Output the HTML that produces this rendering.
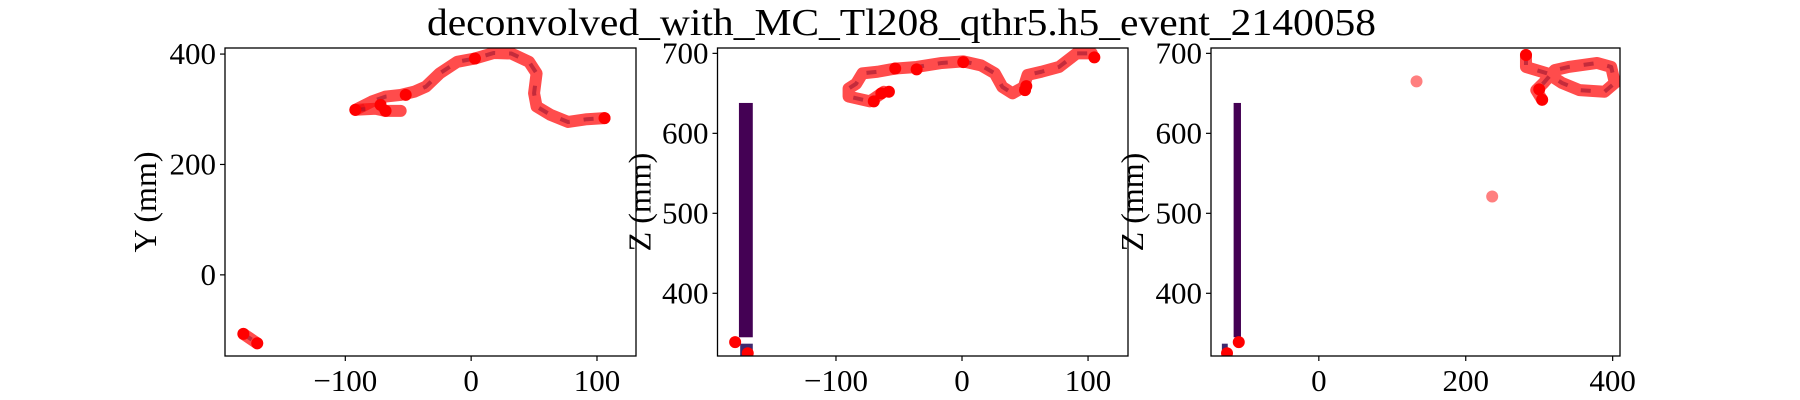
<!DOCTYPE html>
<html><head><meta charset="utf-8"><style>
html,body{margin:0;padding:0;background:#fff;}
svg{display:block;font-family:"Liberation Serif",serif;}
</style></head><body>
<svg id="fig" width="1800" height="400" viewBox="0 0 1800 400" xmlns="http://www.w3.org/2000/svg">
<rect width="1800" height="400" fill="#fff"/>
<text x="427" y="35" font-size="38" textLength="949" lengthAdjust="spacingAndGlyphs">deconvolved_with_MC_Tl208_qthr5.h5_event_2140058</text>
<g id="panels"></g>
</svg>
<script>
// Panel 1: X vs Y track
const trackXY_x = [-92,-79,-68,-56,-45,-36,-25,-11,3,18,32,46,52,50,52,63,77,92,106];
const trackXY_y = [299,314,323,326,332,341,365,386,392,402,401,386,365,329,305,290,277,282,284];
const loopXY_x = [-92,-76,-68,-56];
const loopXY_y = [299,301,297,297];
const dotsXY_x = [-92,-72,-68,-52,3,106,-181,-170];
const dotsXY_y = [299,308,297,326,392,284,-107,-124];
// Panel 2: X vs Z track
const trackXZ_x = [-62,-73,-90,-90,-84,-79,-67,-53,-36,-16,1,15,26,32,40,49,52,63,77,91,103];
const trackXZ_z = [652,640,646,656,662,675,677,681,683,688,690,685,675,658,650,658,673,677,683,700,700];
const dotsXZ_x = [-70,-64,-58,-53,-36,1,50,51,105,-180,-170];
const dotsXZ_z = [640,650,652,681,680,689,654,659,695,339,325];
// Panel 3: Y vs Z track
const trackYZ_y = [282,282,311,331,355,389,403,398,379,340,321,306,296,304];
const trackYZ_z = [698,683,675,663,654,652,663,683,688,683,679,663,654,642];
const dotsYZ_y = [282,300,304,-109,-125];
const dotsYZ_z = [698,655,642,339,325];
const isoYZ_y = [133,236];
const isoYZ_z = [665,521];
// Heatmap-like column cells (x0, x1, z0, z1) in data units
const cellsXZ_x0 = [-177,-176]; const cellsXZ_x1 = [-166,-166];
const cellsXZ_z0 = [345,322]; const cellsXZ_z1 = [638,337];
const cellsYZ_x0 = [-116,-132]; const cellsYZ_x1 = [-106,-124];
const cellsYZ_z0 = [345,322]; const cellsYZ_z1 = [638,337];
// Ticks
const ticksX12 = [-100,0,100];
const ticksY1 = [0,200,400];
const ticksZ = [400,500,600,700];
const ticksX3 = [0,200,400];

const NS="http://www.w3.org/2000/svg";
const root=document.getElementById('panels');
function mk(t,a,p){const e=document.createElementNS(NS,t);for(const k in a)e.setAttribute(k,a[k]);(p||root).appendChild(e);return e;}
function lin(d0,d1,p0,p1){return v=>p0+(v-d0)/(d1-d0)*(p1-p0);}

function panel(name,box,xd,yd,xt,yt,ylabel){
  const g=mk('g',{});
  
  
  const sx=lin(xd[0],xd[1],box.l,box.r), sy=lin(yd[0],yd[1],box.b,box.t);
  const clipId=name+'-clip';
  const cp=mk('clipPath',{id:clipId},g); mk('rect',{x:box.l,y:box.t,width:box.r-box.l,height:box.b-box.t},cp);
  const plot=mk('g',{'clip-path':'url(#'+clipId+')'},g);
  
  
  const fr=mk('rect',{x:box.l,y:box.t,width:box.r-box.l,height:box.b-box.t,fill:'none',stroke:'#000','stroke-width':1.3},g);
  
  
  xt.forEach(v=>{const x=sx(v);
    mk('line',{x1:x,x2:x,y1:box.b,y2:box.b+5,stroke:'#000','stroke-width':1.2},g);
    const t=mk('text',{x:x,y:box.b+35,'font-size':31,'text-anchor':'middle'},g);
    
    
    t.textContent=v<0?'\u2212'+(-v):String(v);});
  yt.forEach(v=>{const y=sy(v);
    mk('line',{x1:box.l-5,x2:box.l,y1:y,y2:y,stroke:'#000','stroke-width':1.2},g);
    const t=mk('text',{x:box.l-9,y:y+10,'font-size':31,'text-anchor':'end'},g);
    
    
    t.textContent=v<0?'\u2212'+(-v):String(v);});
  const lx=box.l-ylabel.off+10;
  const yl=mk('text',{x:lx,y:(box.t+box.b)/2,'font-size':32,'text-anchor':'middle',transform:'rotate(-90 '+lx+' '+(box.t+box.b)/2+')'},g);
  
  
  yl.textContent=ylabel.text;
  return {plot,sx,sy};
}
function track(p,xs,ys,name){
  const pts=xs.map((v,i)=>p.sx(v)+','+p.sy(ys[i])).join(' ');
  const l=mk('polyline',{points:pts,fill:'none',stroke:'#ff1010','stroke-width':12,'stroke-linejoin':'round','stroke-linecap':'round',opacity:0.75},p.plot);
  
  
  const u=mk('polyline',{points:pts,fill:'none',stroke:'#8a0a2a','stroke-width':4,'stroke-linejoin':'round','stroke-dasharray':'10 14',opacity:0.5},p.plot);
  
  
}
function dots(p,xs,ys,op){
  xs.forEach((v,i)=>{const c=mk('circle',{cx:p.sx(v),cy:p.sy(ys[i]),r:6,fill:'#ff0000','fill-opacity':op},p.plot);
    
    });
}
function cells(p,x0,x1,z0,z1){
  x0.forEach((v,i)=>{const r=mk('rect',{x:p.sx(v),y:p.sy(z1[i]),width:p.sx(x1[i])-p.sx(v),height:p.sy(z0[i])-p.sy(z1[i]),fill:i==0?'#440154':'#3e2a6f'},p.plot);
    
    });
}
const p1=panel('panel-xy',{l:225,r:636,t:48,b:356},[-195.6,131],[-147,411],ticksX12,ticksY1,{text:'Y (mm)',off:79});
track(p1,trackXY_x,trackXY_y,'track-xy');
track(p1,loopXY_x,loopXY_y,'track-xy-loop');
track(p1,[-181,-170],[-107,-124],'track-xy-lower');
dots(p1,dotsXY_x,dotsXY_y,1);
const p2=panel('panel-xz',{l:717.5,r:1128,t:48,b:356},[-194,131.7],[321.6,706.7],ticksX12,ticksZ,{text:'Z (mm)',off:77});
cells(p2,cellsXZ_x0,cellsXZ_x1,cellsXZ_z0,cellsXZ_z1);
track(p2,trackXZ_x,trackXZ_z,'track-xz');
dots(p2,dotsXZ_x,dotsXZ_z,1);
const p3=panel('panel-yz',{l:1211,r:1620,t:48,b:356},[-146.8,410],[321.6,706.7],ticksX3,ticksZ,{text:'Z (mm)',off:78});
cells(p3,cellsYZ_x0,cellsYZ_x1,cellsYZ_z0,cellsYZ_z1);
track(p3,trackYZ_y,trackYZ_z,'track-yz');
dots(p3,dotsYZ_y,dotsYZ_z,1);
dots(p3,isoYZ_y,isoYZ_z,0.5);
</script>
</body></html>
